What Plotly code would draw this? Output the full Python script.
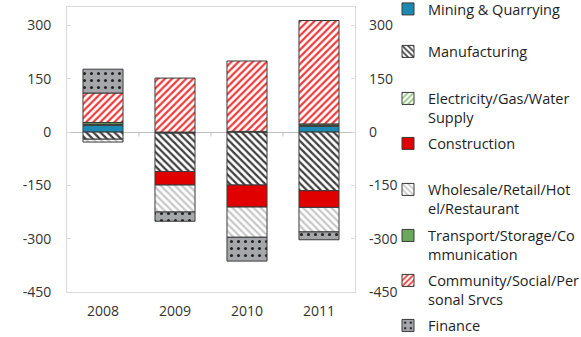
import plotly.graph_objects as go

years = ["2008", "2009", "2010", "2011"]

mining = [19, -3, 0, 16]
manufacturing = [-20, -108, -149, -165]
electricity = [3, 0, 2, 3]
construction = [0, -38, -62, -47]
wholesale = [-8, -76, -85, -69]
transport = [5, 0, 0, 4]
community = [83, 152, 198, 291]
finance = [67, -26, -67, -22]

tick_vals = [-450, -300, -150, 0, 150, 300]
tick_text = ["-450", "-300", "-150", "0", "150", "300"]

W, H = 581, 337
M_L, M_R, M_T, M_B = 67, 226, 7, 45
PLOT_W = W - M_L - M_R
PLOT_H = H - M_T - M_B
FONT = "Open Sans"
TXT = "#333333"
EDGE = "#3a3a3a"

series = [
    ("Mining & Quarrying", mining, dict(color="#1b8ab3")),
    ("Manufacturing", manufacturing,
     dict(color="white", pattern=dict(shape="\\", fgcolor="#404040", bgcolor="white",
                                      size=5, solidity=0.45, fillmode="replace"))),
    ("Electricity/Gas/Water<br>Supply", electricity,
     dict(color="white", pattern=dict(shape="/", fgcolor="#8cc47c", bgcolor="white",
                                      size=5, solidity=0.4, fillmode="replace"))),
    ("Construction", construction, dict(color="#e00000")),
    ("Wholesale/Retail/Hot<br>el/Restaurant", wholesale,
     dict(color="white", pattern=dict(shape="\\", fgcolor="#c8c8c8", bgcolor="white",
                                      size=5, solidity=0.45, fillmode="replace"))),
    ("Transport/Storage/Co<br>mmunication", transport, dict(color="#6aa85c")),
    ("Community/Social/Per<br>sonal Srvcs", community,
     dict(color="white", pattern=dict(shape="/", fgcolor="#f03a3a", bgcolor="white",
                                      size=5, solidity=0.45, fillmode="replace"))),
    ("Finance", finance,
     dict(color="#a5a7aa", pattern=dict(shape=".", fgcolor="#222222", bgcolor="#a5a7aa",
                                        size=7, solidity=0.15, fillmode="replace"))),
]

# first-line centre of each legend entry, in pixels from the top
legend_rows = [9.5, 52, 99, 144, 190, 236, 281, 326]
LEGEND_LEFT = 388


def px_to_paper_x(px):
    return (px - M_L) / PLOT_W


def px_to_paper_y(py):
    return (H - M_B - py) / PLOT_H


fig = go.Figure()
layout_legends = {}
for i, (name, vals, marker) in enumerate(series):
    key = "legend" if i == 0 else f"legend{i + 1}"
    marker = dict(marker)
    marker["line"] = dict(color=EDGE, width=1)
    fig.add_trace(go.Bar(
        x=years, y=vals, name=name, marker=marker,
        legend=key, hoverinfo="skip",
    ))
    layout_legends[key] = dict(
        xref="paper", yref="paper",
        x=px_to_paper_x(LEGEND_LEFT), y=px_to_paper_y(legend_rows[i] - 16.5),
        xanchor="left", yanchor="top",
        valign="top",
        bgcolor="rgba(0,0,0,0)",
        font=dict(family=FONT, size=14.5, color="#1e1e1e"),
        itemclick=False, itemdoubleclick=False,
    )

# empty trace so the right-hand value axis is drawn
fig.add_trace(go.Scatter(x=years, y=[None] * 4, yaxis="y2", showlegend=False,
                         hoverinfo="skip", mode="lines"))

# small category separators on the zero line
for xb in [0.5, 1.5, 2.5]:
    fig.add_shape(type="line", xref="x", yref="y", x0=xb, x1=xb, y0=0, y1=-12,
                  line=dict(color="#bfbfbf", width=1))

fig.update_layout(
    width=W, height=H,
    margin=dict(l=M_L, r=M_R, t=M_T, b=M_B, autoexpand=False),
    barmode="relative",
    bargap=0.444,
    plot_bgcolor="white",
    paper_bgcolor="white",
    font=dict(family=FONT, size=14, color=TXT),
    showlegend=True,
    xaxis=dict(
        type="category", showline=True, mirror=True, linecolor="#d9d9d9",
        ticks="", tickfont=dict(size=14, color=TXT), ticklabelstandoff=6,
    ),
    yaxis=dict(
        range=[-450, 352], tickvals=tick_vals, ticktext=tick_text,
        showgrid=False, zeroline=True, zerolinecolor="#bfbfbf", zerolinewidth=1,
        showline=True, mirror="ticks", linecolor="#d9d9d9",
        ticks="inside", ticklen=4, tickcolor="#d9d9d9",
        tickfont=dict(size=14, color=TXT), ticklabelstandoff=12,
    ),
    yaxis2=dict(
        overlaying="y", side="right", range=[-450, 352],
        tickvals=tick_vals, ticktext=tick_text,
        showgrid=False, zeroline=False, showline=False, ticks="",
        tickfont=dict(size=14, color=TXT), ticklabelstandoff=13,
    ),
    **layout_legends,
)

fig.write_html("out.html")
